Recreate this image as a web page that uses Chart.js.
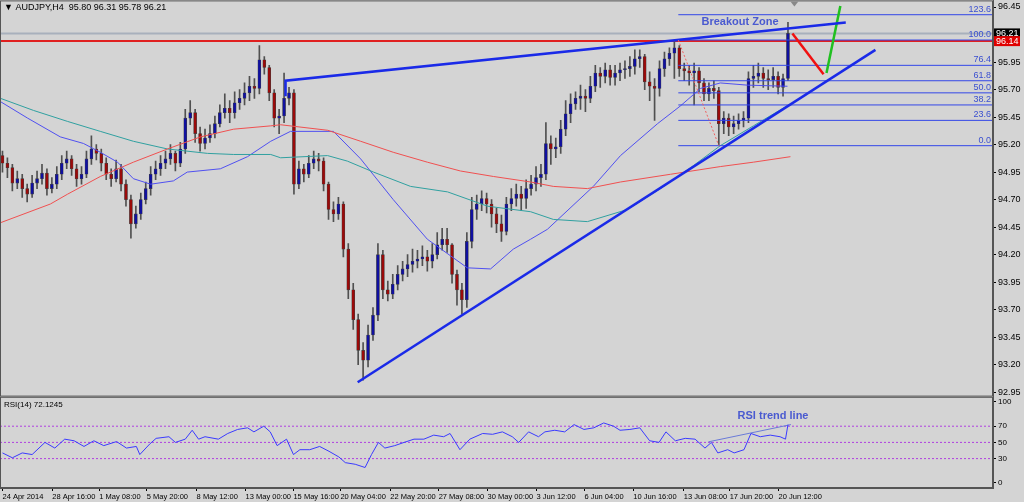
<!DOCTYPE html>
<html>
<head>
<meta charset="utf-8">
<script src="https://cdn.jsdelivr.net/npm/chart.js@4/dist/chart.umd.min.js"></script>
<style>
  body { margin: 0; background: #d4d4d4; width: 1024px; height: 502px; overflow: hidden; position: relative; }
  canvas { position: absolute; left: 0; }
  #mainChart { top: -7px; }
  #rsiChart { top: 390px; }
</style>
</head>
<body>
<canvas id="mainChart" width="1024" height="411"></canvas>
<canvas id="rsiChart" width="1024" height="112"></canvas>
<script>
// Dados do gráfico AUDJPY H4
const closes = [
  95.03,94.99,94.85,94.89,94.80,94.75,94.85,94.89,94.94,94.80,
  94.84,94.93,95.03,95.07,94.98,94.89,94.93,95.07,95.16,95.12,
  95.03,94.93,94.89,94.98,94.84,94.70,94.48,94.57,94.70,94.80,
  94.93,94.98,95.03,95.07,95.12,95.03,95.16,95.44,95.49,95.30,
  95.21,95.26,95.30,95.39,95.49,95.53,95.49,95.58,95.62,95.67,
  95.73,95.71,95.97,95.90,95.67,95.44,95.46,95.62,95.67,94.84,
  94.98,94.93,95.03,95.07,95.05,94.84,94.61,94.57,94.66,94.25,
  93.88,93.61,93.33,93.24,93.47,93.65,94.20,93.88,93.84,93.93,
  94.02,94.07,94.11,94.14,94.16,94.18,94.14,94.20,94.29,94.34,
  94.29,94.02,93.88,93.79,94.32,94.61,94.66,94.71,94.66,94.57,
  94.48,94.41,94.66,94.71,94.75,94.71,94.80,94.84,94.90,94.93,
  95.21,95.16,95.18,95.34,95.48,95.57,95.62,95.64,95.62,95.73,
  95.85,95.82,95.88,95.81,95.85,95.88,95.89,95.91,95.98,96.00,
  95.77,95.73,95.71,95.89,95.98,96.03,96.08,95.89,95.87,95.85,
  95.87,95.76,95.66,95.71,95.69,95.39,95.44,95.36,95.39,95.42,
  95.44,95.80,95.82,95.85,95.80,95.79,95.82,95.72,95.80,96.21
];
const highs = [
  95.14,95.08,95.02,94.96,94.93,94.84,94.92,94.96,95.02,94.98,
  94.90,95.00,95.10,95.14,95.10,95.02,95.00,95.14,95.28,95.20,
  95.16,95.08,94.98,95.06,95.02,94.88,94.74,94.64,94.76,94.86,
  95.00,95.05,95.10,95.14,95.20,95.14,95.22,95.52,95.60,95.52,
  95.36,95.34,95.38,95.46,95.56,95.66,95.60,95.68,95.70,95.76,
  95.82,95.80,96.10,96.00,95.92,95.70,95.52,95.85,95.72,95.70,
  95.05,95.02,95.10,95.14,95.12,95.08,94.86,94.68,94.72,94.68,
  94.30,93.94,93.66,93.40,93.56,93.72,94.30,94.24,93.96,94.02,
  94.10,94.14,94.20,94.25,94.24,94.28,94.24,94.30,94.40,94.44,
  94.44,94.30,94.06,93.94,94.40,94.72,94.74,94.78,94.76,94.70,
  94.62,94.56,94.72,94.80,94.84,94.82,94.88,94.92,95.00,95.02,
  95.40,95.28,95.26,95.42,95.60,95.66,95.68,95.74,95.70,95.82,
  95.92,95.90,95.94,95.92,95.92,95.94,95.96,96.00,96.06,96.06,
  96.02,95.86,95.80,95.96,96.04,96.08,96.15,96.10,95.94,95.92,
  95.94,95.90,95.80,95.76,95.78,95.72,95.50,95.48,95.46,95.48,
  95.50,95.86,95.92,95.94,95.90,95.88,95.90,95.86,95.84,96.31
];
const lows = [
  94.95,94.90,94.78,94.80,94.72,94.68,94.72,94.80,94.84,94.74,
  94.76,94.80,94.88,94.98,94.92,94.82,94.84,94.90,95.02,95.06,
  94.96,94.88,94.82,94.86,94.78,94.64,94.35,94.44,94.52,94.66,
  94.74,94.88,94.92,94.98,95.02,94.96,95.00,95.12,95.38,95.22,
  95.14,95.16,95.22,95.26,95.36,95.44,95.40,95.44,95.52,95.56,
  95.60,95.62,95.66,95.84,95.60,95.36,95.30,95.40,95.56,94.75,
  94.80,94.86,94.90,94.98,94.96,94.78,94.52,94.50,94.52,94.18,
  93.80,93.52,93.20,93.06,93.18,93.42,93.60,93.80,93.78,93.80,
  93.88,93.96,94.00,94.04,94.08,94.10,94.05,94.08,94.16,94.24,
  94.22,93.94,93.74,93.66,93.72,94.26,94.52,94.60,94.58,94.45,
  94.40,94.32,94.38,94.60,94.64,94.60,94.62,94.74,94.78,94.82,
  94.88,95.02,95.08,95.12,95.28,95.40,95.52,95.52,95.50,95.58,
  95.68,95.72,95.76,95.74,95.74,95.78,95.80,95.82,95.84,95.90,
  95.70,95.60,95.42,95.64,95.82,95.92,95.80,95.82,95.78,95.74,
  95.56,95.68,95.60,95.60,95.62,95.20,95.30,95.28,95.30,95.34,
  95.36,95.40,95.72,95.76,95.72,95.70,95.72,95.66,95.64,95.78
];
const firstOpen = 95.10;

// Médias móveis (pontos lidos: índice da vela, preço)
const maFastIdx = [-0.4,5.1,11.7,16.4,19.8,23.3,26.5,30,34.6,37.4,44.1,49.6,54.3,58.3,67,72.5,79.1,86,94.1,98.8,103.4,106.9,110.3,119.6,125.1,132.6,137.2,141.3,145.3,150.8,158.9];
const maFastVal = [95.59,95.44,95.27,95.21,95.13,95.04,94.89,94.84,94.87,94.95,94.98,95.09,95.23,95.32,95.32,95.07,94.70,94.34,94.08,94.07,94.25,94.34,94.43,94.82,95.10,95.39,95.55,95.71,95.76,95.74,95.73];
const maMidIdx = [-0.4,6.3,13.2,19.8,26.5,33.4,41.5,46.8,54.3,56.3,65.8,69.8,75.1,82.6,90.1,98.2,106.9,111.5,118.4,126.5,133.2,139.9,145.3,152,159.5];
const maMidVal = [95.62,95.51,95.41,95.32,95.23,95.16,95.12,95.11,95.11,95.08,95.10,95.05,94.95,94.82,94.77,94.64,94.59,94.52,94.50,94.61,94.80,95.01,95.19,95.37,95.57];
const maSlowIdx = [-0.4,9.7,13.2,19.8,26.5,33.4,40.1,46.8,54.3,56.3,65.8,72.5,79.1,86,92.7,99.4,106.9,111.5,118.4,125.1,135.2,145.3,152,159.5];
const maSlowVal = [94.49,94.66,94.75,94.91,95.04,95.16,95.27,95.34,95.37,95.38,95.33,95.23,95.13,95.04,94.96,94.91,94.86,94.82,94.80,94.86,94.93,95.00,95.04,95.09];

// RSI(14)
const rsiIdx = [0,2,4,6,8.6,10.6,12.6,14.5,16.5,18.5,20.5,23.1,25.1,27.1,27.8,29.8,31.1,33.7,35,37,38.4,39.7,41,43.7,45.6,47.6,49.6,50.9,52.9,54.2,55.6,57.5,58.9,60.2,62.2,64.2,66.1,68.1,69.4,71.4,73.4,74.7,76.1,77.4,79.4,81.3,83.3,85.3,87.3,89.3,90.6,92.6,94.6,97.2,99.2,101.2,103.2,104.5,106.5,108.5,109.8,111.8,113.8,115.7,117.7,119.7,121.7,123.7,125,127,129,131,132.9,134.3,136.2,138.2,140.2,142.2,143.5,144.8,146.8,148.1,150.1,151.5,153.4,155.4,157.4,158.5,159];
const rsiVal = [37,31,37,35,50,43,54,52,45,52,46,51,43,45,35,48,55,57,50,54,65,54,57,54,61,66,68,63,70,63,46,54,35,41,41,45,39,32,25,23,19,35,50,43,46,50,54,54,59,57,61,41,54,61,60,63,57,50,63,57,63,65,63,72,66,68,74,70,65,66,68,52,50,63,52,55,54,43,50,37,41,37,41,61,57,59,57,54,72];
const rsiLevels = [70, 50, 30];
const rsiTicks = [0, 30, 50, 70, 100];
const rsiTrendLine = [{x: 142.9, y: 50.7}, {x: 159.6, y: 72}];

// Objetos desenhados sobre o gráfico
const upperTrend = [{x: 57.3, y: 95.64}, {x: 57.3, y: 95.78}, {x: 170.7, y: 96.31}];
const lowerTrend = [{x: 71.9, y: 93.04}, {x: 176.7, y: 96.06}];
const retraceDash = [{x: 136.8, y: 96.15}, {x: 145, y: 95.19}];
const arrowDown = [{x: 159.9, y: 96.21}, {x: 166.2, y: 95.84}];
const arrowUp = [{x: 166.8, y: 95.85}, {x: 169.6, y: 96.46}];
const fibNames = ['123.6', '100.0', '76.4', '61.8', '50.0', '38.2', '23.6', '0.0'];
const fibPrices = [96.38, 96.15, 95.92, 95.78, 95.67, 95.56, 95.42, 95.19];
const fibStart = 136.8;
const resistance = 96.14;
const lastPrice = 96.21;

const priceTicks = [92.95,93.20,93.45,93.70,93.95,94.20,94.45,94.70,94.95,95.20,95.45,95.70,95.95,96.45];
const xTickPos = [0,10.1,19.6,29.2,39.3,49.2,58.9,68.4,78.5,88.3,98.2,108.1,117.8,127.7,137.9,147.2,157.1];
const xTickLabels = ['24 Apr 2014','28 Apr 16:00','1 May 08:00','5 May 20:00','8 May 12:00','13 May 00:00','15 May 16:00','20 May 04:00','22 May 20:00','27 May 08:00','30 May 00:00','3 Jun 12:00','6 Jun 04:00','10 Jun 16:00','13 Jun 08:00','17 Jun 20:00','20 Jun 12:00'];

const X_MIN = -0.5, X_MAX = 200.5;
const FONT = 'Liberation Sans';
const AXIS_W = 31;

// Monta OHLC a partir das listas
const opens = closes.map((c, i) => i === 0 ? firstOpen : closes[i - 1]);
const wickData = closes.map((c, i) => ({x: i, y: [lows[i], highs[i]]}));
const bodyData = closes.map((c, i) => {
    const o = opens[i];
    const lo = Math.min(o, c), hi = Math.max(o, c);
    return {x: i, y: [lo, hi === lo ? hi + 0.005 : hi]};
});
const bodyColors = closes.map((c, i) => c >= opens[i] ? '#1010a0' : '#9a0a0a');

function pts(idx, val) {
    return idx.map((x, i) => ({x: x, y: val[i]}));
}

function lineDs(data, color, width, order, dash) {
    return {
        type: 'line', data: data, borderColor: color, borderWidth: width,
        pointRadius: 0, fill: false, tension: 0, order: order,
        borderDash: dash || []
    };
}

const fixedWidth = { afterFit: function(scale) { scale.width = AXIS_W; } };

// Plugin: moldura, textos e caixas de preço
const framePlugin = {
    id: 'frame',
    afterDraw(chart, args, opts) {
        const ctx = chart.ctx, a = chart.chartArea;
        const top = a.top;
        ctx.save();
        ctx.strokeStyle = '#555';
        ctx.lineWidth = 1;
        ctx.strokeRect(a.left + 0.5, a.top + 0.5, a.right - a.left - 1, a.bottom - a.top - 1);
        if (opts.main) {
            const y = chart.scales.y, x = chart.scales.x;
            ctx.font = '9px ' + FONT;
            ctx.fillStyle = '#000';
            ctx.textBaseline = 'middle';
            ctx.fillText('\u25BC AUDJPY,H4  95.80 96.31 95.78 96.21', 4, top + 7);
            // níveis de Fibonacci
            ctx.fillStyle = '#3a4fd0';
            ctx.textAlign = 'right';
            ctx.textBaseline = 'bottom';
            fibPrices.forEach((p, i) => {
                ctx.fillText(fibNames[i], a.right - 2, y.getPixelForValue(p) - 1);
            });
            ctx.textAlign = 'left';
            ctx.font = 'bold 11px ' + FONT;
            ctx.fillStyle = '#4a5ad0';
            ctx.textBaseline = 'middle';
            ctx.fillText('Breakout Zone', x.getPixelForValue(141.5), top + 22);
            // caixas do eixo de preço
            const boxes = [[lastPrice, '#000', '#fff'], [resistance, '#e00000', '#fff']];
            ctx.font = '9px ' + FONT;
            boxes.forEach(b => {
                const py = y.getPixelForValue(b[0]);
                ctx.fillStyle = b[1];
                ctx.fillRect(a.right + 1, py - 5, 26, 10);
                ctx.fillStyle = b[2];
                ctx.fillText(b[0].toFixed(2), a.right + 3, py);
            });
            // triângulo no topo
            ctx.fillStyle = '#888';
            ctx.beginPath();
            const tx = x.getPixelForValue(160.3);
            ctx.moveTo(tx - 4, top + 1); ctx.lineTo(tx + 4, top + 1); ctx.lineTo(tx, top + 6);
            ctx.fill();
        } else {
            ctx.font = '8px ' + FONT;
            ctx.fillStyle = '#000';
            ctx.textBaseline = 'middle';
            ctx.fillText('RSI(14) 72.1245', 4, top + 8);
            ctx.font = 'bold 11px ' + FONT;
            ctx.fillStyle = '#4a5ad0';
            ctx.fillText('RSI trend line', chart.scales.x.getPixelForValue(148.8), top + 19);
        }
        ctx.restore();
    }
};

document.addEventListener('DOMContentLoaded', function() {
    const fullWidth = v => [{x: X_MIN, y: v}, {x: X_MAX, y: v}];
    const fibDatasets = fibPrices.map(p => lineDs([{x: fibStart, y: p}, {x: X_MAX, y: p}], '#3347e8', 1, 2));

    new Chart(document.getElementById('mainChart'), {
        type: 'bar',
        data: {
            datasets: [
                lineDs(fullWidth(lastPrice), '#a8b0bc', 2, 9),
                lineDs(fullWidth(resistance), '#e02020', 2, 8),
                { data: wickData, backgroundColor: '#505050', barThickness: 1, grouped: false, order: 6 },
                { data: bodyData, backgroundColor: bodyColors, borderColor: '#404040', borderWidth: 0.6, borderSkipped: false, barThickness: 3, grouped: false, order: 5 },
                lineDs(pts(maSlowIdx, maSlowVal), '#f05050', 1, 4),
                lineDs(pts(maMidIdx, maMidVal), '#30a0a0', 1, 4),
                lineDs(pts(maFastIdx, maFastVal), '#5050f0', 1, 4)
            ].concat(fibDatasets, [
                lineDs(retraceDash, '#f06060', 1, 1, [2, 2]),
                lineDs(upperTrend, '#1a2ae8', 2.5, 1),
                lineDs(lowerTrend, '#1a2ae8', 2.5, 1),
                lineDs(arrowDown, '#f01010', 2.5, 1),
                lineDs(arrowUp, '#20c020', 2.5, 1)
            ])
        },
        options: {
            responsive: false, animation: false, devicePixelRatio: 1,
            layout: { padding: { top: 2, bottom: 1 } },
            plugins: { legend: { display: false }, tooltip: { enabled: false }, frame: { main: true } },
            scales: {
                x: { type: 'linear', min: X_MIN, max: X_MAX, offset: false, display: false },
                y: Object.assign({
                    position: 'right', min: 92.91, max: 96.51,
                    afterBuildTicks: s => { s.ticks = priceTicks.map(v => ({value: v})); },
                    ticks: { callback: v => v.toFixed(2), color: '#000', font: { family: FONT, size: 9 }, padding: 2 },
                    grid: { drawOnChartArea: false, tickLength: 3, color: '#000' },
                    border: { color: '#555' }
                }, fixedWidth)
            }
        },
        plugins: [framePlugin]
    });

    const rsiLevelSets = rsiLevels.map(v => lineDs(fullWidth(v), '#b040e0', 1, 3, [2, 2]));
    new Chart(document.getElementById('rsiChart'), {
        type: 'line',
        data: {
            datasets: rsiLevelSets.concat([
                lineDs(pts(rsiIdx, rsiVal), '#3a3aff', 1, 1),
                lineDs(rsiTrendLine, '#6a7ad8', 1, 1)
            ])
        },
        options: {
            responsive: false, animation: false, devicePixelRatio: 1,
            layout: { padding: { top: 1 } },
            plugins: { legend: { display: false }, tooltip: { enabled: false }, frame: { main: false } },
            scales: {
                x: {
                    type: 'linear', min: X_MIN, max: X_MAX, offset: false,
                    afterBuildTicks: s => { s.ticks = xTickPos.map(v => ({value: v})); },
                    ticks: {
                        autoSkip: false, maxRotation: 0, align: 'start', padding: 1,
                        color: '#000', font: { family: FONT, size: 7.5 },
                        callback: (v, i) => xTickLabels[i]
                    },
                    grid: { drawOnChartArea: false, tickLength: 3, color: '#000' },
                    border: { color: '#555' }
                },
                y: Object.assign({
                    position: 'right', min: -6.3, max: 106.3,
                    afterBuildTicks: s => { s.ticks = rsiTicks.map(v => ({value: v})); },
                    ticks: { color: '#000', font: { family: FONT, size: 8 }, padding: 2 },
                    grid: { drawOnChartArea: false, tickLength: 3, color: '#000' },
                    border: { color: '#555' }
                }, fixedWidth)
            }
        },
        plugins: [framePlugin]
    });
});
</script>
</body>
</html>
